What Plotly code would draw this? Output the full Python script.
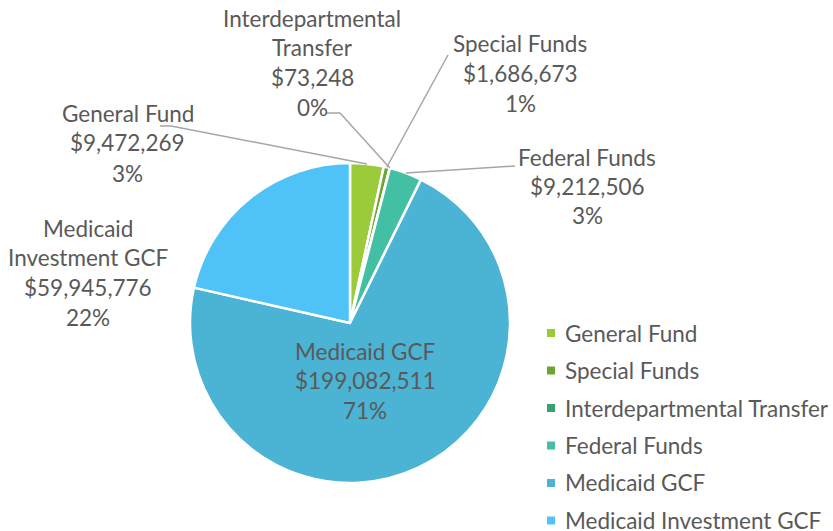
import math
import plotly.graph_objects as go

# ---- data ----
categories = ["General Fund", "Special Funds", "Interdepartmental Transfer",
              "Federal Funds", "Medicaid GCF", "Medicaid Investment GCF"]
values = [9472269, 1686673, 73248, 9212506, 199082511, 59945776]
pct_labels = ["3%", "1%", "0%", "3%", "71%", "22%"]
label_names = [["General Fund"], ["Special Funds"], ["Interdepartmental", "Transfer"],
               ["Federal Funds"], ["Medicaid GCF"], ["Medicaid", "Investment GCF"]]
colors = ["#9BCB3B", "#6AA533", "#34A46E", "#43C0A3", "#4BB3D3", "#4FC3F7"]

# ---- layout geometry (pixels) ----
W, H = 833, 531
CX, CY, R = 350, 323, 160
FONT = "Lato, 'Open Sans', sans-serif"
TXT = "#595959"
FS = 22.5

def px(x):
    return x / W

def py(y):
    return 1 - y / H

# label block placement: (center x, first line y, line spacing)
label_pos = [(128, 113, 30), (520, 44, 29.5), (312, 18, 29.7),
             (587, 157, 29), (365, 351, 29.5), (88, 228, 29.7)]
# leader lines: label-side points
leaders = [[(160, 126), (171, 126)], [(448, 55)], [(327, 113), (340, 113)],
           [(515, 166)], None, None]

fig = go.Figure(go.Pie(
    labels=categories, values=values, sort=False, direction="clockwise",
    rotation=0, textinfo="none", hoverinfo="label+value+percent",
    marker=dict(colors=colors, line=dict(color="white", width=2.5)),
    domain=dict(x=[px(CX - R), px(CX + R)], y=[py(CY + R), py(CY - R)]),
    showlegend=False,
))

annotations = []
shapes = []
total = sum(values)
cum = 0
for i, v in enumerate(values):
    mid = (cum + v / 2) / total * 2 * math.pi
    cum += v
    lines = label_names[i] + ["${:,}".format(v), pct_labels[i]]
    x0, y0, dy = label_pos[i]
    for k, t in enumerate(lines):
        annotations.append(dict(x=px(x0), y=py(y0 + k * dy), xref="paper", yref="paper",
                                text=t, showarrow=False, xanchor="center", yanchor="middle",
                                font=dict(family=FONT, size=FS, color=TXT)))
    if leaders[i]:
        ex = CX + R * math.sin(mid)
        ey = CY - R * math.cos(mid)
        pts = leaders[i] + [(ex, ey)]
        path = "M " + " L ".join("{:.4f},{:.4f}".format(px(a), py(b)) for a, b in pts)
        shapes.append(dict(type="path", xref="paper", yref="paper", path=path,
                           line=dict(color="#A6A6A6", width=1.5)))

# legend (drawn manually for matching spacing)
leg_x, leg_y0, leg_dy = 551, 333, 37.5
for i, name in enumerate(categories):
    yy = leg_y0 + i * leg_dy
    shapes.append(dict(type="rect", xref="paper", yref="paper",
                       x0=px(leg_x - 4), x1=px(leg_x + 4), y0=py(yy + 4), y1=py(yy - 4),
                       fillcolor=colors[i], line=dict(width=0)))
    annotations.append(dict(x=px(563), y=py(yy), xref="paper", yref="paper", text=name,
                            showarrow=False, xanchor="left", yanchor="middle",
                            font=dict(family=FONT, size=FS, color=TXT)))

fig.update_layout(width=W, height=H, margin=dict(l=0, r=0, t=0, b=0),
                  paper_bgcolor="white", plot_bgcolor="white",
                  annotations=annotations, shapes=shapes)
fig.write_html("out.html", config={"displayModeBar": False},
               post_script="document.body.style.margin='0';")
